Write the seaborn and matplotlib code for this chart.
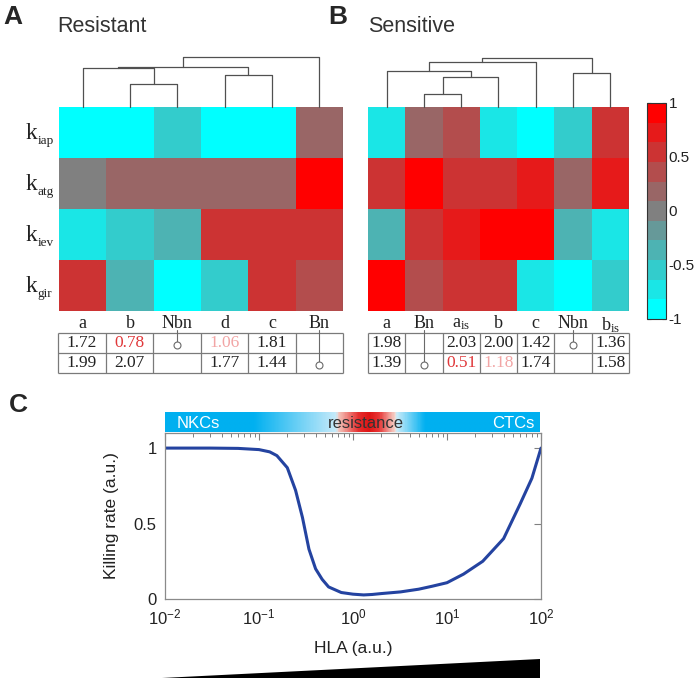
import matplotlib
matplotlib.use('Agg')
import matplotlib.pyplot as plt
from matplotlib.colors import ListedColormap, LinearSegmentedColormap
from matplotlib.patches import Polygon
import numpy as np
import pandas as pd
import seaborn as sns

W, H = 697, 678

ROWS = ['iap', 'atg', 'iev', 'gir']

# panel A (resistant)
RES_KEYS = ['a', 'b', 'Nbn', 'd', 'c', 'Bn']
RES_LABELS = ['a', 'b', 'Nbn', 'd', 'c', 'Bn']
RES_IAP = [-1.0, -1.0, -0.6, -1.0, -1.0, 0.2]
RES_ATG = [0.0, 0.2, 0.2, 0.2, 0.2, 1.0]
RES_IEV = [-0.8, -0.6, -0.4, 0.6, 0.6, 0.6]
RES_GIR = [0.6, -0.4, -1.0, -0.6, 0.6, 0.4]
# merges: (left, right, height above heatmap in px); cN = N-th merge
RES_LINKS = [('b', 'Nbn', 23), ('d', 'c', 32), ('a', 'c0', 39), ('c2', 'c1', 40.5), ('c3', 'Bn', 50)]
RES_TAB1 = ['1.72', '0.78', 'o', '1.06', '1.81', '']
RES_TAB2 = ['1.99', '2.07', '', '1.77', '1.44', 'o']

# panel B (sensitive)
SEN_KEYS = ['a', 'Bn', 'ais', 'b', 'c', 'Nbn', 'bis']
SEN_LABELS = ['a', 'Bn', r'a$_{\mathrm{is}}$', 'b', 'c', 'Nbn', r'b$_{\mathrm{is}}$']
SEN_IAP = [-0.8, 0.2, 0.4, -0.8, -1.0, -0.6, 0.6]
SEN_ATG = [0.6, 1.0, 0.6, 0.6, 0.8, 0.2, 0.8]
SEN_IEV = [-0.4, 0.6, 0.8, 1.0, 1.0, -0.4, -0.8]
SEN_GIR = [1.0, 0.4, 0.6, 0.6, -0.8, -1.0, -0.6]
SEN_LINKS = [('Bn', 'ais', 12.7), ('c0', 'b', 30.3), ('a', 'c1', 36.3), ('c2', 'c', 44.7),
             ('Nbn', 'bis', 34.3), ('c3', 'c4', 48.7)]
SEN_TAB1 = ['1.98', '', '2.03', '2.00', '1.42', 'o', '1.36']
SEN_TAB2 = ['1.39', 'o', '0.51', '1.18', '1.74', '', '1.58']

RED_VALUES = ['0.78', '0.51']
PINK_VALUES = ['1.06', '1.18']

CBAR_TICKS = [-1, -0.5, 0, 0.5, 1]
CBAR_LABELS = ['-1', '-0.5', '0', '0.5', '1']

# panel C
HLA = [0.01, 0.03, 0.06, 0.1, 0.13, 0.155, 0.2, 0.245, 0.29, 0.34, 0.4, 0.47, 0.55, 0.75,
       1.0, 1.3, 1.6, 2.0, 3.2, 5.0, 7.0, 10, 15, 24, 40, 60, 80, 100]
KILL = [1.0, 1.0, 0.998, 0.99, 0.975, 0.95, 0.87, 0.72, 0.54, 0.33, 0.2, 0.13, 0.08, 0.043,
        0.032, 0.027, 0.03, 0.036, 0.047, 0.065, 0.085, 0.108, 0.165, 0.25, 0.40, 0.63, 0.80, 1.0]

SERIF = ['Liberation Serif', 'DejaVu Serif']
SANS = ['Liberation Sans', 'DejaVu Sans']


def box(x0, y0, x1, y1):
    return [x0 / W, 1 - y1 / H, (x1 - x0) / W, (y1 - y0) / H]


def make_cmap():
    cyan = np.array([0, 255, 255]) / 255
    gray = np.array([128, 128, 128]) / 255
    red = np.array([255, 0, 0]) / 255
    cols = [cyan + (gray - cyan) * k / 5 for k in range(5)] + [gray] + \
           [gray + (red - gray) * k / 5 for k in range(1, 6)]
    return ListedColormap(cols)


def draw_heatmap(ax, rows, labels, cbar_ax=None):
    df = pd.DataFrame(rows, index=ROWS, columns=labels)
    sns.heatmap(df, ax=ax, cmap=CMAP, vmin=-1, vmax=1, cbar=cbar_ax is not None,
                cbar_ax=cbar_ax, xticklabels=labels, yticklabels=False)
    ax.tick_params(length=0, pad=3)
    for lab in ax.get_xticklabels():
        lab.set_rotation(0)
        lab.set_fontfamily(SERIF)
        lab.set_fontsize(13)
        lab.set_color('#222222')
    ax.axvline(len(labels), color='#555555', lw=0.9)


def draw_dendrogram(ax, keys, links):
    pos = {k: (i + 0.5, 0.0) for i, k in enumerate(keys)}
    for j, (left, right, h) in enumerate(links):
        x1, h1 = pos[left]
        x2, h2 = pos[right]
        ax.plot([x1, x1, x2, x2], [h1, h, h, h2], color='#505050', lw=0.9, clip_on=False)
        pos[f'c{j}'] = ((x1 + x2) / 2, h)
    ax.set_xlim(0, len(keys))
    ax.set_ylim(0, 57)
    ax.axis('off')


def draw_table(ax, row1, row2):
    n = len(row1)
    ax.set_xlim(0, n)
    ax.set_ylim(2, 0)
    ax.axis('off')
    grid = '#7a7a7a'
    ax.hlines([0, 1, 2], 0, n, color=grid, lw=0.9, clip_on=False)
    ax.vlines(range(n + 1), 0, 2, color=grid, lw=0.9, clip_on=False)
    for r, row in enumerate([row1, row2]):
        for i, val in enumerate(row):
            x = i + 0.5
            if val == 'o':
                yc = r + 0.6
                ax.plot([x, x], [-0.13, yc - 0.13], color='#6a6a6a', lw=0.8, clip_on=False)
                ax.plot([x], [yc], marker='o', ms=5, mfc='white', mec='#6a6a6a', mew=0.8,
                        clip_on=False, zorder=3)
            elif val:
                color = '#222222'
                if val in RED_VALUES:
                    color = '#e0383a'
                elif val in PINK_VALUES:
                    color = '#f2a5a5'
                ax.text(x, r + 0.52, val, ha='center', va='center', fontsize=12.5,
                        family=SERIF, color=color)


sns.set_style('white')
plt.rcParams['font.family'] = SANS
plt.rcParams['axes.unicode_minus'] = False
plt.rcParams['mathtext.fontset'] = 'custom'
plt.rcParams['mathtext.rm'] = 'Liberation Serif'
plt.rcParams['mathtext.it'] = 'Liberation Serif:italic'

CMAP = make_cmap()

fig = plt.figure(figsize=(W / 100, H / 100), dpi=100)

# ---- panel A ----
ax_ha = fig.add_axes(box(59, 107, 343, 311))
draw_heatmap(ax_ha, [RES_IAP, RES_ATG, RES_IEV, RES_GIR], RES_LABELS)
for i, r in enumerate(ROWS):
    ax_ha.text(-0.118, i + 0.62, 'k', transform=ax_ha.get_yaxis_transform(), ha='left',
               va='baseline', fontsize=17, family=SERIF, color='#222222')
    ax_ha.text(-0.076, i + 0.72, r, transform=ax_ha.get_yaxis_transform(), ha='left',
               va='baseline', fontsize=9.5, family=SERIF, color='#222222')
ax_da = fig.add_axes(box(59, 50, 343, 107))
draw_dendrogram(ax_da, RES_KEYS, RES_LINKS)
ax_ta = fig.add_axes(box(58, 333, 343, 373))
draw_table(ax_ta, RES_TAB1, RES_TAB2)

# ---- panel B ----
ax_hb = fig.add_axes(box(368, 107, 629, 311))
ax_cb = fig.add_axes(box(647, 103, 666, 319))
draw_heatmap(ax_hb, [SEN_IAP, SEN_ATG, SEN_IEV, SEN_GIR], SEN_LABELS, cbar_ax=ax_cb)
cbar = ax_hb.collections[0].colorbar
cbar.set_ticks(CBAR_TICKS)
cbar.set_ticklabels(CBAR_LABELS)
cbar.ax.tick_params(direction='in', length=3, width=0.8, left=True, right=True,
                    labelsize=11, pad=2, colors='#222222')
cbar.outline.set_edgecolor('#333333')
cbar.outline.set_linewidth(0.8)
ax_db = fig.add_axes(box(368, 50, 629, 107))
draw_dendrogram(ax_db, SEN_KEYS, SEN_LINKS)
ax_tb = fig.add_axes(box(368, 333, 629, 373))
draw_table(ax_tb, SEN_TAB1, SEN_TAB2)

# ---- panel C ----
ax_c = fig.add_axes(box(165, 433, 541, 599))
sns.lineplot(x=HLA, y=KILL, ax=ax_c, color='#2443a0', lw=2.2)
ax_c.set_xscale('log')
ax_c.set_xlim(1e-2, 1e2)
ax_c.set_ylim(0, 1.1)
ax_c.set_yticks([0, 0.5, 1])
ax_c.set_yticklabels(['0', '0.5', '1'])
ax_c.tick_params(which='both', direction='in', top=True, right=True, labelsize=12,
                 colors='#222222')
ax_c.tick_params(which='major', length=5, width=0.8, color='#808080', pad=6)
ax_c.tick_params(which='minor', length=3, width=0.7, color='#808080')
for sp in ax_c.spines.values():
    sp.set_color('#8a8a8a')
    sp.set_linewidth(0.9)
ax_c.set_xlabel('HLA (a.u.)', fontsize=12.5, color='#222222')
ax_c.set_ylabel('Killing rate (a.u.)', fontsize=12.5, color='#222222')
ax_c.xaxis.set_label_coords(0.5, -0.25)
ax_c.yaxis.set_label_coords(-0.122, 0.5)

ax_bar = fig.add_axes(box(165, 412, 540, 432))
bar_cmap = LinearSegmentedColormap.from_list('bar', [
    (0.0, (0 / 255, 176 / 255, 240 / 255)),
    (0.235, (0 / 255, 176 / 255, 240 / 255)),
    (0.458, (200 / 255, 235 / 255, 250 / 255)),
    (0.46, (245 / 255, 205 / 255, 195 / 255)),
    (0.517, (230 / 255, 45 / 255, 45 / 255)),
    (0.545, (222 / 255, 20 / 255, 20 / 255)),
    (0.572, (232 / 255, 55 / 255, 55 / 255)),
    (0.615, (246 / 255, 218 / 255, 208 / 255)),
    (0.617, (205 / 255, 237 / 255, 250 / 255)),
    (0.695, (0 / 255, 176 / 255, 240 / 255)),
    (1.0, (0 / 255, 176 / 255, 240 / 255)),
])
ax_bar.imshow(np.linspace(0, 1, 600)[None, :], cmap=bar_cmap, aspect='auto',
              extent=(0, 1, 0, 1))
ax_bar.set_xlim(0, 1)
ax_bar.set_ylim(0, 1)
ax_bar.axis('off')
ax_bar.text(0.03, 0.42, 'NKCs', color='white', fontsize=12, ha='left', va='center')
ax_bar.text(0.985, 0.42, 'CTCs', color='white', fontsize=12, ha='right', va='center')
ax_bar.text(0.535, 0.42, 'resistance', color='#333333', fontsize=12, ha='center', va='center')

fig.patches.append(Polygon([(162 / W, 0), (540 / W, (H - 659) / H), (540 / W, 0)],
                           closed=True, transform=fig.transFigure, facecolor='black',
                           edgecolor='none'))

# ---- labels ----
fig.text(3 / W, 1 - 5 / H, 'A', fontsize=19, weight='bold', va='top', ha='left')
fig.text(328 / W, 1 - 5 / H, 'B', fontsize=19, weight='bold', va='top', ha='left')
fig.text(9 / W, 1 - 393 / H, 'C', fontsize=19, weight='bold', va='top', ha='left')
fig.text(57 / W, 1 - 27 / H, 'Resistant', fontsize=15.5, va='center', ha='left', color='#333333')
fig.text(368 / W, 1 - 27 / H, 'Sensitive', fontsize=15.5, va='center', ha='left', color='#333333')

fig.savefig('out.png', dpi=100)
